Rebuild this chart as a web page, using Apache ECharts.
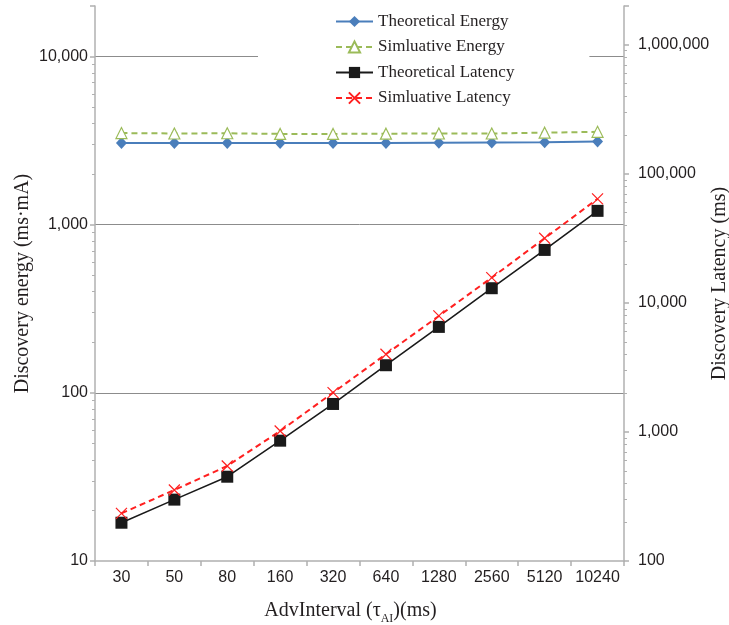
<!DOCTYPE html>
<html><head><meta charset="utf-8">
<script src="https://cdn.jsdelivr.net/npm/echarts@6/dist/echarts.min.js"></script>
<style>html,body{margin:0;padding:0;background:#fff}#c{width:729px;height:625px}</style>
</head><body><div id="c"></div>
<script>
const categories = ['30','50','80','160','320','640','1280','2560','5120','10240'];
const theoreticalEnergy = [3060,3060,3060,3060,3060,3060,3070,3080,3090,3130];
const simulativeEnergy = [3510,3490,3500,3470,3470,3480,3490,3490,3530,3570];
const theoreticalLatency = [198,299,450,856,1648,3290,6520,13000,25750,51700];
const simulativeLatency = [234,355,545,1018,2017,4002,7926,15710,31720,64000];
const energyMinorTicks = [20,30,40,50,60,70,80,90,200,300,400,500,600,700,800,900,2000,3000,4000,5000,6000,7000,8000,9000];
const latencyMinorTicks = [200,300,400,500,600,700,800,900,2000,3000,4000,5000,6000,7000,8000,9000,
  20000,30000,40000,50000,60000,70000,80000,90000,200000,300000,400000,500000,600000,700000,800000,900000];

const AX = '#b0b0b0', TXT = '#231f20';
const SANS = 'Liberation Sans', SERIF = 'Liberation Serif';
const isPow10 = v => Math.abs(Math.log10(v) - Math.round(Math.log10(v))) < 1e-6;
const fmt = v => isPow10(v) ? Math.round(v).toLocaleString('en-US') : '';

const chart = echarts.init(document.getElementById('c'), null, {renderer: 'canvas'});
chart.setOption({
  animation: false,
  backgroundColor: '#fff',
  grid: {left: 95, right: 105, top: 6, bottom: 64, containLabel: false, outerBoundsMode: 'none'},
  legend: {
    orient: 'vertical', left: 258, top: 0,
    padding: [13, 75, 8, 77],
    backgroundColor: '#fff',
    itemWidth: 37, itemHeight: 14, itemGap: 8.5,
    textStyle: {fontFamily: SERIF, fontSize: 17, color: TXT},
    data: ['Theoretical Energy', 'Simluative Energy', 'Theoretical Latency', 'Simluative Latency']
  },
  xAxis: {
    type: 'category', data: categories, boundaryGap: true,
    axisLine: {lineStyle: {color: AX, width: 1.5}},
    axisTick: {show: true, length: 5, lineStyle: {color: AX, width: 1.5}},
    axisLabel: {fontFamily: SANS, fontSize: 16, color: TXT, margin: 9, interval: 0, hideOverlap: false},
    name: '{a|AdvInterval (τ}{s|AI}{a|)(ms)}',
    nameLocation: 'middle', nameGap: 40, nameMoveOverlap: false,
    nameTextStyle: {
      padding: [0, 18, 0, 0],
      rich: {
        a: {fontFamily: SERIF, fontSize: 20, color: TXT, lineHeight: 20, verticalAlign: 'top'},
        s: {fontFamily: SERIF, fontSize: 12, color: TXT, lineHeight: 12, verticalAlign: 'top', padding: [12, 0, 0, 0]}
      }
    },
    splitLine: {show: false}
  },
  yAxis: [
    {
      type: 'log', logBase: 10, min: 10, max: 20000, interval: 1, position: 'left',
      axisLine: {show: true, lineStyle: {color: AX, width: 1.5}},
      axisTick: {show: true, length: 5, lineStyle: {color: AX, width: 1.5}},
      axisLabel: {fontFamily: SANS, fontSize: 16, color: TXT, margin: 7, formatter: fmt},
      splitLine: {show: true, showMaxLine: false, showMinLine: false, lineStyle: {color: '#8c8c8c', width: 1}},
      name: 'Discovery energy (ms·mA)', nameLocation: 'middle', nameGap: 62, nameMoveOverlap: false,
      nameTextStyle: {fontFamily: SERIF, fontSize: 20, color: TXT}
    },
    {
      type: 'log', logBase: 10, min: 100, max: 2000000, interval: 1, position: 'right',
      axisLine: {show: true, lineStyle: {color: AX, width: 1.5}},
      axisTick: {show: true, length: 5, lineStyle: {color: AX, width: 1.5}},
      axisLabel: {fontFamily: SANS, fontSize: 16, color: TXT, margin: 14, formatter: fmt},
      splitLine: {show: false},
      name: 'Discovery Latency (ms)', nameLocation: 'middle', nameGap: 86, nameMoveOverlap: false,
      nameTextStyle: {fontFamily: SERIF, fontSize: 20, color: TXT}
    },
    {
      type: 'log', logBase: 10, min: 10, max: 20000, position: 'left',
      axisLine: {show: false}, axisLabel: {show: false}, splitLine: {show: false},
      axisTick: {show: true, length: 3, customValues: energyMinorTicks, lineStyle: {color: AX, width: 1}}
    },
    {
      type: 'log', logBase: 10, min: 100, max: 2000000, position: 'right',
      axisLine: {show: false}, axisLabel: {show: false}, splitLine: {show: false},
      axisTick: {show: true, length: 3, customValues: latencyMinorTicks, lineStyle: {color: AX, width: 1}}
    }
  ],
  series: [
    {
      name: 'Theoretical Energy', type: 'line', yAxisIndex: 0, data: theoreticalEnergy,
      symbol: 'diamond', symbolSize: [11, 12],
      lineStyle: {color: '#4a7ebb', width: 2},
      itemStyle: {color: '#4a7ebb'}
    },
    {
      name: 'Simluative Energy', type: 'line', yAxisIndex: 0, data: simulativeEnergy,
      symbol: 'triangle', symbolSize: 11, showAllSymbol: true,
      lineStyle: {color: '#9bbb59', width: 2, type: [6, 4]},
      itemStyle: {color: '#ffffff', borderColor: '#9bbb59', borderWidth: 1.2}
    },
    {
      name: 'Theoretical Latency', type: 'line', yAxisIndex: 1, data: theoreticalLatency,
      symbol: 'rect', symbolSize: 12,
      lineStyle: {color: '#1a1a1a', width: 1.6},
      itemStyle: {color: '#1a1a1a'}
    },
    {
      name: 'Simluative Latency', type: 'line', yAxisIndex: 1, data: simulativeLatency,
      symbol: 'path://M0,0L10,10M10,0L0,10', symbolSize: 11,
      lineStyle: {color: '#ff2020', width: 2, type: [6, 4]},
      itemStyle: {color: '#ff2020', borderColor: '#ff2020', borderWidth: 1.2}
    }
  ]
});
</script></body></html>
